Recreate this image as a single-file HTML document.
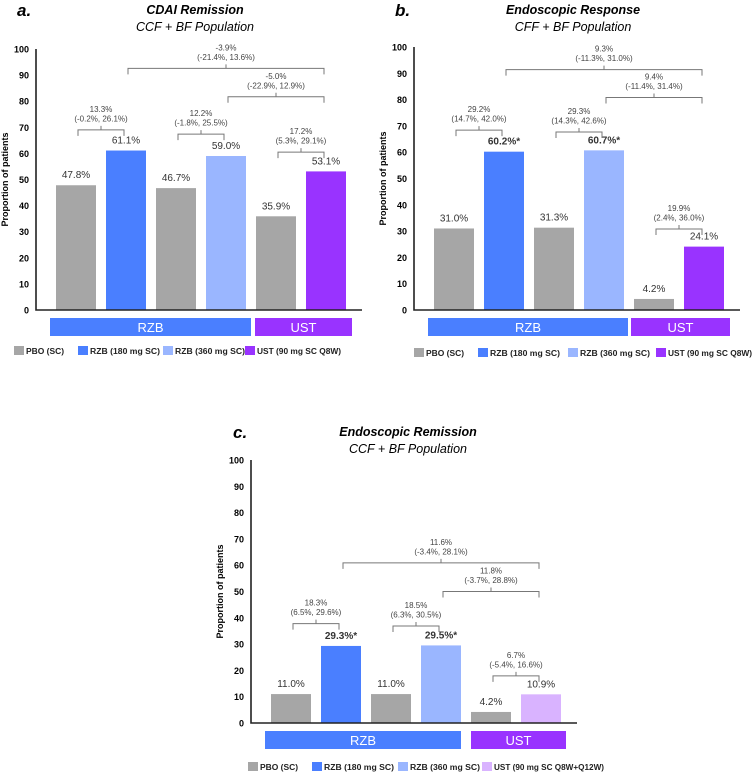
<!DOCTYPE html>
<html><head><meta charset="utf-8"><style>
body{margin:0;background:#fff;width:755px;height:775px;overflow:hidden}
svg text{font-family:"Liberation Sans",Arial,sans-serif}
</style></head><body>
<svg id="chart" width="755" height="775" viewBox="0 0 755 775" xmlns="http://www.w3.org/2000/svg"></svg>
<script>
const yTicks=[0,10,20,30,40,50,60,70,80,90,100];
const valuesA=[47.8,61.1,46.7,59.0,35.9,53.1];
const labelsA=["47.8%","61.1%","46.7%","59.0%","35.9%","53.1%"];
const valuesB=[31.0,60.2,31.3,60.7,4.2,24.1];
const labelsB=["31.0%","60.2%*","31.3%","60.7%*","4.2%","24.1%"];
const valuesC=[11.0,29.3,11.0,29.5,4.2,10.9];
const labelsC=["11.0%","29.3%*","11.0%","29.5%*","4.2%","10.9%"];
const bracketLevelsA=[69,67.4,60.5,92.6,81.7];
const bracketTextA=[["13.3%","(-0.2%, 26.1%)"],["12.2%","(-1.8%, 25.5%)"],["17.2%","(5.3%, 29.1%)"],["-3.9%","(-21.4%, 13.6%)"],["-5.0%","(-22.9%, 12.9%)"]];
const bracketLevelsB=[68.4,67.7,30.8,91.4,80.8];
const bracketTextB=[["29.2%","(14.7%, 42.0%)"],["29.3%","(14.3%, 42.6%)"],["19.9%","(2.4%, 36.0%)"],["9.3%","(-11.3%, 31.0%)"],["9.4%","(-11.4%, 31.4%)"]];
const bracketLevelsC=[37.8,36.9,17.9,60.9,50];
const bracketTextC=[["18.3%","(6.5%, 29.6%)"],["18.5%","(6.3%, 30.5%)"],["6.7%","(-5.4%, 16.6%)"],["11.6%","(-3.4%, 28.1%)"],["11.8%","(-3.7%, 28.8%)"]];
const bracketPairs=[[0,1],[2,3],[4,5],[1,5],[3,5]];
const legendA=["PBO (SC)","RZB (180 mg SC)","RZB (360 mg SC)","UST (90 mg SC Q8W)"];
const legendC=["PBO (SC)","RZB (180 mg SC)","RZB (360 mg SC)","UST (90 mg SC Q8W+Q12W)"];

const NS="http://www.w3.org/2000/svg";
const svg=document.getElementById('chart');
function mk(tag,attrs,parent,txt){const e=document.createElementNS(NS,tag);for(const k in attrs)e.setAttribute(k,attrs[k]);if(txt!==undefined)e.textContent=txt;(parent||svg).appendChild(e);return e;}

function panel(p){
  const g=mk('g',{});
  
  
  const y=v=>p.y0-v*(p.y0-p.y100)/100;
  const bx=i=>p.bar0+i*50;
  let t=mk('text',{x:p.letterX,y:p.titleY+2,'font-size':17,'font-weight':'bold','font-style':'italic'},g,p.id+'.');
  
  t=mk('text',{x:p.titleX,y:p.titleY,'font-size':12.5,'font-weight':'bold','font-style':'italic','text-anchor':'middle'},g,p.title);
  
  t=mk('text',{x:p.titleX,y:p.titleY+17,'font-size':12.5,'font-style':'italic','text-anchor':'middle'},g,p.sub);
  
  yTicks.forEach(v=>{const tt=mk('text',{x:p.ax-7,y:y(v)+3.5,'font-size':9,'font-weight':'bold','text-anchor':'end'},g,v);
    });
  t=mk('text',{transform:`translate(${p.ax-28},${(p.y0+p.y100)/2}) rotate(-90)`,'font-size':9,'font-weight':'bold','text-anchor':'middle'},g,'Proportion of patients');
  
  p.vals.forEach((v,i)=>{
    const r=mk('rect',{x:bx(i),y:y(v),width:40,height:p.y0-y(v),fill:p.colors[i]},g);
    
    const bold=p.labels[i].includes('*');
    const l=mk('text',{x:bx(i)+20,y:y(v)-7,'font-size':10,'font-weight':bold?'bold':'normal','text-anchor':'middle',fill:'#333'},g,p.labels[i]);
    
  });
  let a=mk('path',{d:`M${p.ax},${p.y100} V${p.y0} H${bx(5)+56}`,stroke:'#222','stroke-width':1.6,fill:'none'},g);
  
  p.bl.forEach((lv,k)=>{
    const [i,j]=bracketPairs[k];
    const x1=bx(i)+22, x2=bx(j)+18, yy=y(lv), xm=(x1+x2)/2;
    const b=mk('path',{d:`M${x1},${yy+6} V${yy} H${x2} V${yy+6} M${xm},${yy} V${yy-4}`,stroke:'#777','stroke-width':1,fill:'none'},g);
    
    p.bt[k].forEach((s,m)=>{const tt=mk('text',{x:xm,y:yy-18+m*9.5,'font-size':8,'text-anchor':'middle',fill:'#444'},g,s);
      });
  });
  const gy=p.y0+8;
  let r=mk('rect',{x:p.rzb[0],y:gy,width:p.rzb[1]-p.rzb[0],height:18,fill:'#4a7fff'},g);
  
  t=mk('text',{x:(p.rzb[0]+p.rzb[1])/2,y:gy+14,'font-size':13,fill:'#fff','text-anchor':'middle'},g,'RZB');
  
  r=mk('rect',{x:p.ust[0],y:gy,width:p.ust[1]-p.ust[0],height:18,fill:'#9933ff'},g);
  
  t=mk('text',{x:(p.ust[0]+p.ust[1])/2,y:gy+14,'font-size':13,fill:'#fff','text-anchor':'middle'},g,'UST');
  
  const lc=[p.colors[0],p.colors[1],p.colors[3],p.colors[5]];
  p.leg.forEach((s,i)=>{
    const lx=p.legX[i];
    const sq=mk('rect',{x:lx,y:p.legY-8,width:10,height:9,fill:lc[i]},g);
    
    const tt=mk('text',{x:lx+12,y:p.legY,'font-size':8,'font-weight':'bold',fill:'#222',textLength:p.legW[i],lengthAdjust:'spacingAndGlyphs'},g,s);
    
  });
}
const gray='#a6a6a6';
panel({id:'a',title:'CDAI Remission',sub:'CCF + BF Population',titleX:195,titleY:14,letterX:17,ax:36,y0:310,y100:49,bar0:56,
  vals:valuesA,labels:labelsA,colors:[gray,'#4a7fff',gray,'#9ab6ff',gray,'#9933ff'],bl:bracketLevelsA,bt:bracketTextA,
  rzb:[50,251],ust:[255,352],leg:legendA,legX:[14,78,163,245],legW:[38,70,70,84],legY:354});
panel({id:'b',title:'Endoscopic Response',sub:'CFF + BF Population',titleX:573,titleY:14,letterX:395,ax:414,y0:310,y100:47,bar0:434,
  vals:valuesB,labels:labelsB,colors:[gray,'#4a7fff',gray,'#9ab6ff',gray,'#9933ff'],bl:bracketLevelsB,bt:bracketTextB,
  rzb:[428,628],ust:[631,730],leg:legendA,legX:[414,478,568,656],legW:[38,70,70,84],legY:356});
panel({id:'c',title:'Endoscopic Remission',sub:'CCF + BF Population',titleX:408,titleY:436,letterX:233,ax:251,y0:723,y100:460,bar0:271,
  vals:valuesC,labels:labelsC,colors:[gray,'#4a7fff',gray,'#9ab6ff',gray,'#d9b3ff'],bl:bracketLevelsC,bt:bracketTextC,
  rzb:[265,461],ust:[471,566],leg:legendC,legX:[248,312,398,482],legW:[38,70,70,110],legY:770});
</script>
</body></html>
